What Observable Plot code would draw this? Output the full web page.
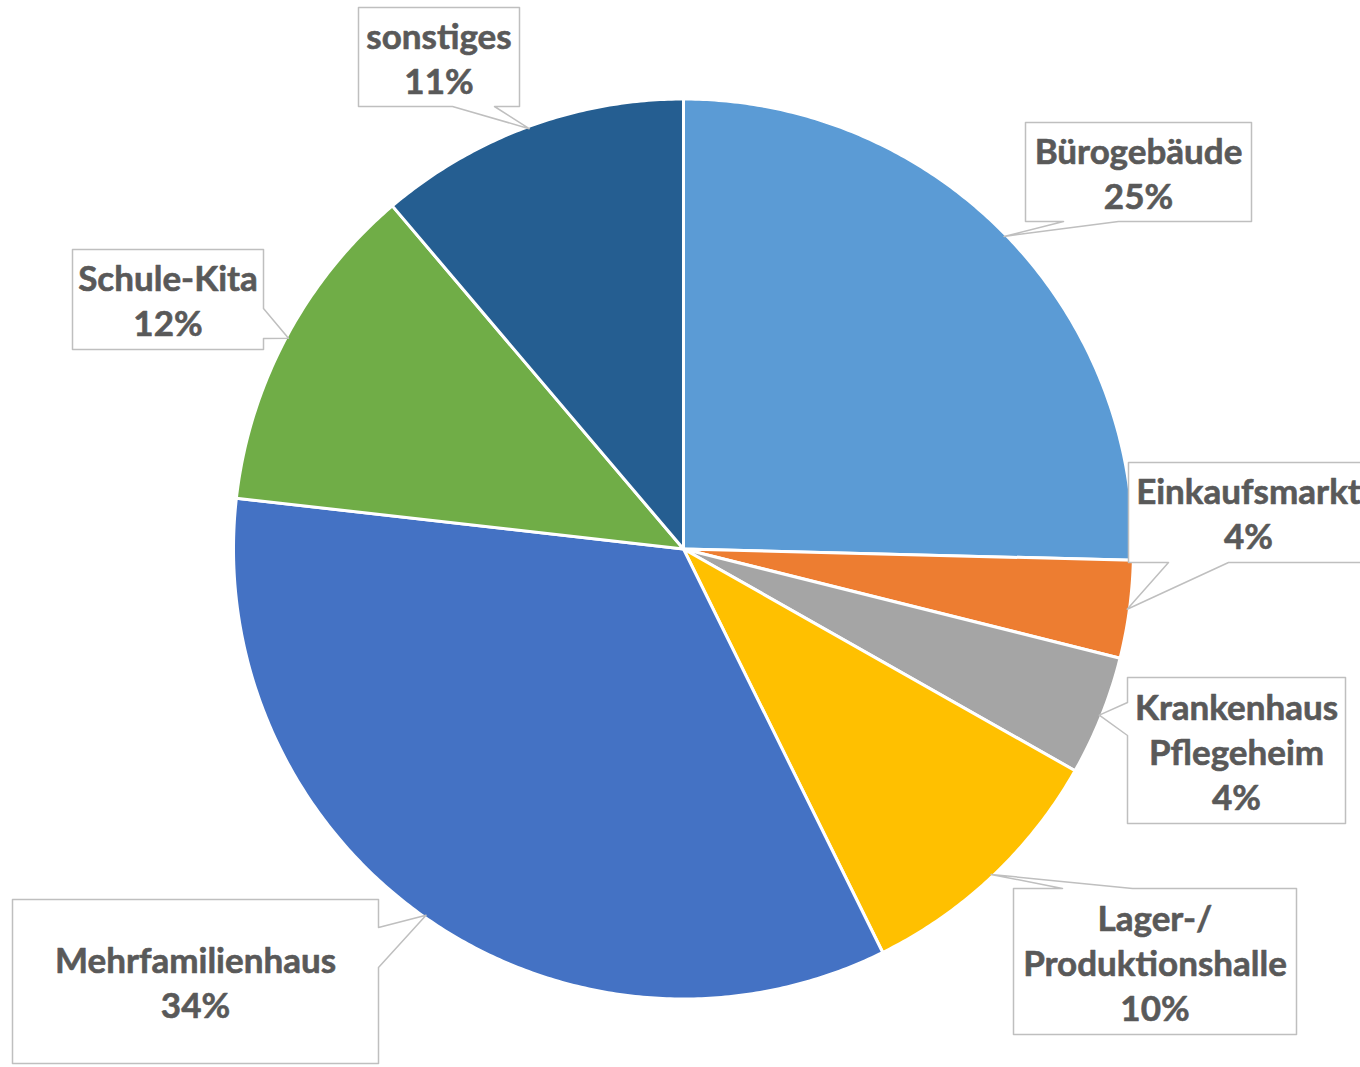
<!DOCTYPE html>
<html>
<head>
<meta charset="utf-8">
<script src="https://cdn.jsdelivr.net/npm/d3@7"></script>
<script src="https://cdn.jsdelivr.net/npm/@observablehq/plot@0.6"></script>
<style>
  html, body { margin: 0; padding: 0; background: #ffffff; overflow: hidden; }
  #chart svg { display: block; overflow: hidden; }
</style>
</head>
<body>
<div id="chart"></div>
<script>
// ---- data ----
const categories = ["Bürogebäude", "Einkaufsmarkt", "Krankenhaus\nPflegeheim", "Lager-/\nProduktionshalle", "Mehrfamilienhaus", "Schule-Kita", "sonstiges"];
const values = [25.4, 3.5, 4.3, 9.5, 34.1, 12.0, 11.2];
const colors = ["#5B9BD5", "#ED7D31", "#A5A5A5", "#FFC000", "#4472C4", "#70AD47", "#255E91"];

// ---- layout (pixels) ----
const W = 1360, H = 1067;
const cx = 683, cy = 548.5, R = 450;
// callout boxes: [x0, x1, y0, y1, side, base0, base1]
const boxes = [
  [1025, 1251, 122, 221, "bottom", 1063, 1118],
  [1128, 1368, 462, 562, "bottom", 1168, 1228],
  [1127, 1345, 677, 823, "left", 702, 735],
  [1013, 1296, 888, 1034, "top", 1062, 1132],
  [12, 378, 899, 1063, "right", 927, 967],
  [72, 263, 249, 349, "right", 308, 338],
  [358, 519, 7, 106, "bottom", 452, 494]
];

const total = d3.sum(values);
const arcs = d3.pie().sort(null).value(d => d)(values);

const pt = (a, r) => ({x: cx + r * Math.sin(a), y: cy - r * Math.cos(a)});

const slices = arcs.map((a, i) => {
  const pts = [{x: cx, y: cy}];
  const n = Math.max(4, Math.ceil((a.endAngle - a.startAngle) / (Math.PI / 360)));
  for (let k = 0; k <= n; k++) {
    pts.push(pt(a.startAngle + (a.endAngle - a.startAngle) * k / n, R));
  }
  return {pts, color: colors[i]};
});

const callouts = arcs.map((a, i) => {
  const [x0, x1, y0, y1, side, b0, b1] = boxes[i];
  const tip = pt((a.startAngle + a.endAngle) / 2, R * 0.995);
  let pts;
  if (side === "bottom") pts = [{x:x0,y:y0},{x:x1,y:y0},{x:x1,y:y1},{x:b1,y:y1},tip,{x:b0,y:y1},{x:x0,y:y1}];
  else if (side === "top") pts = [{x:x0,y:y0},{x:b0,y:y0},tip,{x:b1,y:y0},{x:x1,y:y0},{x:x1,y:y1},{x:x0,y:y1}];
  else if (side === "left") pts = [{x:x0,y:y0},{x:x1,y:y0},{x:x1,y:y1},{x:x0,y:y1},{x:x0,y:b1},tip,{x:x0,y:b0}];
  else pts = [{x:x0,y:y0},{x:x1,y:y0},{x:x1,y:b0},tip,{x:x1,y:b1},{x:x1,y:y1},{x:x0,y:y1}];
  return pts;
});

const labels = categories.map((c, i) => ({
  x: (boxes[i][0] + boxes[i][1]) / 2,
  y: (boxes[i][2] + boxes[i][3]) / 2,
  text: c + "\n" + Math.round(values[i] / total * 100 + 1e-9) + "%"
}));

const marks = [];
slices.forEach(s => marks.push(Plot.line(s.pts, {x: "x", y: "y", fill: s.color, stroke: "#ffffff", strokeWidth: 3, strokeLinejoin: "round", curve: "linear-closed"})));
callouts.forEach(c => marks.push(Plot.line(c, {x: "x", y: "y", fill: "#ffffff", stroke: "#BFBFBF", strokeWidth: 1.5, curve: "linear-closed"})));
marks.push(Plot.text(labels, {x: "x", y: "y", text: "text", fontFamily: "Lato", fontWeight: "bold", fontSize: 35, lineHeight: 45 / 35, fill: "#595959", stroke: "#595959", strokeWidth: 0.6}));

const chart = Plot.plot({
  width: W,
  height: H,
  margin: 0,
  x: {domain: [0, W], range: [0, W], axis: null},
  y: {domain: [0, H], range: [0, H], axis: null},
  style: {background: "#ffffff", fontFamily: "Lato"},
  marks
});
document.getElementById("chart").appendChild(chart);
</script>
</body>
</html>
